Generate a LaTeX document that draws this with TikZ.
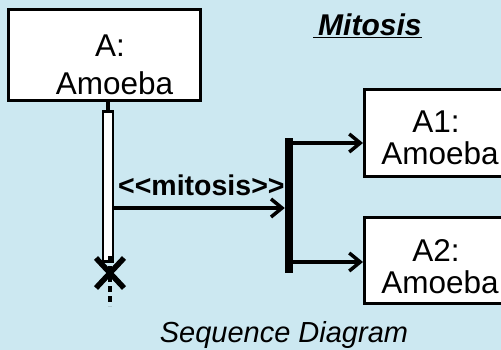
\documentclass[tikz,border=0pt]{standalone}
\usepackage{fontspec}
\setmainfont{Liberation Sans}
\usetikzlibrary{arrows.meta}
\definecolor{bgc}{RGB}{204,232,241}
\tikzset{
  objbox/.style={draw=black, line width=3pt, fill=white, rectangle, inner sep=0pt},
  objtxt/.style={font=\fontsize{31.5}{36}\selectfont, inner sep=0pt, anchor=base},
  msg/.style={line width=3.5pt, -{Straight Barb[length=11pt,width=18pt,line width=3.5pt]}},
}
\begin{document}
\begin{tikzpicture}[x=1pt,y=-1pt]
\useasboundingbox (0,0) rectangle (501,350);
\fill[bgc] (0,0) rectangle (501,350);
\begin{scope}
\clip (0,0) rectangle (501,350);
% object A
\node[objbox, minimum width=192pt, minimum height=91pt] (A) at (104.5,55) {};
\node[objtxt] (At1) at (110,57) {A:};
\node[objtxt] (At2) at (114.5,95) {Amoeba};
% activation bar
\node[draw=black, fill=white, line width=2.5pt, rectangle, inner sep=0pt, minimum width=10pt, minimum height=150pt] (act) at (108,186.5) {};
\draw[line width=4pt] (A.south -| act.north) -- (act.north);
% destruction X
\coordinate (xc) at (110,273);
\draw[line width=5.5pt] ([shift={(-14,-15)}]xc) -- ([shift={(14,15)}]xc);
\draw[line width=5.5pt] ([shift={(14,-15)}]xc) -- ([shift={(-14,15)}]xc);
\coordinate (lend) at (110,306);
\draw[line width=3.5pt, dash pattern=on 6pt off 4pt] ([yshift=17]xc) -- (lend);
% fork bar
\node[fill=black, rectangle, inner sep=0pt, minimum width=8pt, minimum height=135pt] (fork) at (289,205.5) {};
% message
\coordinate (my) at (0,208);
\draw[msg] (act.east |- my) -- (fork.west |- my);
\node[font=\fontsize{28.5}{32}\selectfont\bfseries, inner sep=0pt, anchor=base west] (mlab) at (118,196) {<\kern0pt<mitosis>\kern0pt>};
% A1 and A2
\node[objbox, minimum width=200pt, minimum height=87pt, anchor=west] (A1) at (363,133) {};
\node[objtxt] (A1t1) at (436,133) {A1:};
\node[objtxt] (A1t2) at (440,165) {Amoeba};
\node[objbox, minimum width=200pt, minimum height=86pt, anchor=west] (A2) at (363,260.5) {};
\node[objtxt] (A2t1) at (436,261) {A2:};
\node[objtxt] (A2t2) at (440,293) {Amoeba};
\coordinate (b1) at (0,143);
\coordinate (b2) at (0,262);
\draw[msg] (fork.east |- b1) -- (A1.west |- b1);
\draw[msg] (fork.east |- b2) -- (A2.west |- b2);
% titles
\node[font=\fontsize{30}{34}\selectfont\bfseries\itshape, inner sep=0pt, anchor=base west] (title) at (313,36) {\underline{\hspace{5pt}Mitosis}};
\node[font=\fontsize{29}{34}\selectfont\itshape, inner sep=0pt, anchor=base] (foot) at (284,342) {Sequence Diagram};
\end{scope}
\end{tikzpicture}
\end{document}
